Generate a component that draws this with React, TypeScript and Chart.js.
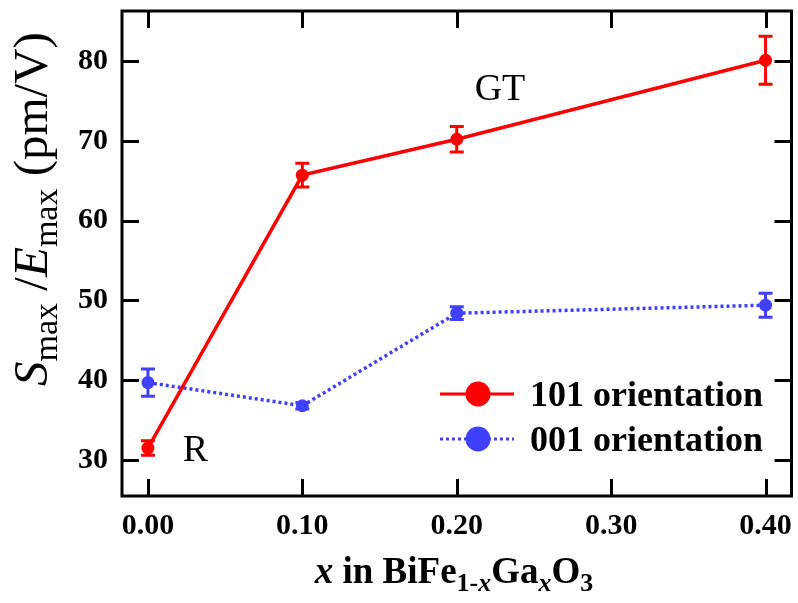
import React, { useEffect, useRef } from "react";
import { Chart, registerables } from "chart.js";
Chart.register(...registerables);

const xValues = [0.0, 0.1, 0.2, 0.4];
const s101 = [31.5, 65.7, 70.2, 80.1];
const e101 = [0.9, 1.5, 1.6, 3.0];
const s001 = [39.7, 36.8, 48.4, 49.4];
const e001 = [1.7, 0.4, 0.8, 1.5];
const xTicks = [0, 0.1, 0.2, 0.3, 0.4];
const yTicks = [30, 40, 50, 60, 70, 80];
const seriesLabels = ["101 orientation", "001 orientation"];
const annoText = ["R", "GT"];
const annoX = [0.0226, 0.2116];
const annoY = [29.9, 75.1];

const RED = "#ff0000";
const BLUE = "#4040ff";
const FAMILY = '"Liberation Serif", "Times New Roman", serif';

type Part = { t: string; f: string; dy: number };

function drawRich(ctx: CanvasRenderingContext2D, parts: Part[], x: number, y: number, rot: number, align: "center" | "left") {
  ctx.save();
  ctx.translate(x, y);
  ctx.rotate(rot);
  let total = 0;
  const widths = parts.map((p) => {
    ctx.font = p.f;
    const w = ctx.measureText(p.t).width;
    total += w;
    return w;
  });
  let cx = align === "center" ? -total / 2 : 0;
  ctx.fillStyle = "#000";
  ctx.textBaseline = "alphabetic";
  ctx.textAlign = "left";
  parts.forEach((p, i) => {
    ctx.font = p.f;
    ctx.fillText(p.t, cx, p.dy);
    cx += widths[i];
  });
  ctx.restore();
}

const errorBars = {
  id: "errorBars",
  beforeDatasetsDraw(chart: any) {
    const ctx = chart.ctx;
    const xs = chart.scales.x;
    const ys = chart.scales.y;
    const sets = [
      { v: s101, e: e101, c: RED },
      { v: s001, e: e001, c: BLUE },
    ];
    ctx.save();
    ctx.lineWidth = 3;
    sets.forEach((s) => {
      ctx.strokeStyle = s.c;
      xValues.forEach((xv, i) => {
        const px = xs.getPixelForValue(xv);
        const top = ys.getPixelForValue(s.v[i] + s.e[i]);
        const bot = ys.getPixelForValue(s.v[i] - s.e[i]);
        ctx.beginPath();
        ctx.moveTo(px, top);
        ctx.lineTo(px, bot);
        ctx.moveTo(px - 7, top);
        ctx.lineTo(px + 7, top);
        ctx.moveTo(px - 7, bot);
        ctx.lineTo(px + 7, bot);
        ctx.stroke();
      });
    });
    ctx.restore();
  },
};

const frameAndText = {
  id: "frameAndText",
  afterDraw(chart: any) {
    const ctx: CanvasRenderingContext2D = chart.ctx;
    const a = chart.chartArea;
    const xs = chart.scales.x;
    const ys = chart.scales.y;
    ctx.save();
    ctx.strokeStyle = "#000";
    ctx.lineWidth = 3;
    ctx.strokeRect(a.left, a.top, a.right - a.left, a.bottom - a.top);
    const tl = 17;
    ctx.beginPath();
    xTicks.forEach((v) => {
      const px = Math.round(xs.getPixelForValue(v)) + 0.5;
      ctx.moveTo(px, a.bottom);
      ctx.lineTo(px, a.bottom - tl);
      ctx.moveTo(px, a.top);
      ctx.lineTo(px, a.top + tl);
    });
    yTicks.forEach((v) => {
      const py = Math.round(ys.getPixelForValue(v)) + 0.5;
      ctx.moveTo(a.left, py);
      ctx.lineTo(a.left + tl, py);
      ctx.moveTo(a.right, py);
      ctx.lineTo(a.right - tl, py);
    });
    ctx.stroke();

    // annotations
    ctx.fillStyle = "#000";
    ctx.font = `38px ${FAMILY}`;
    ctx.textAlign = "left";
    ctx.textBaseline = "alphabetic";
    annoText.forEach((t, i) => {
      ctx.fillText(t, xs.getPixelForValue(annoX[i]), ys.getPixelForValue(annoY[i]));
    });

    // legend
    const rows = [
      { c: RED, dash: [] as number[], y: 394 },
      { c: BLUE, dash: [3, 3], y: 439 },
    ];
    rows.forEach((r, i) => {
      ctx.strokeStyle = r.c;
      ctx.lineWidth = 3;
      ctx.setLineDash(r.dash);
      ctx.beginPath();
      ctx.moveTo(440, r.y);
      ctx.lineTo(514, r.y);
      ctx.stroke();
      ctx.setLineDash([]);
      ctx.fillStyle = r.c;
      ctx.beginPath();
      ctx.arc(478, r.y, 12.5, 0, Math.PI * 2);
      ctx.fill();
      ctx.fillStyle = "#000";
      ctx.font = `bold 36px ${FAMILY}`;
      ctx.fillText(seriesLabels[i], 530, r.y + 12);
    });

    // x title
    const bI = `italic bold 37px ${FAMILY}`;
    const b = `bold 37px ${FAMILY}`;
    const bs = `bold 26px ${FAMILY}`;
    const bsi = `italic bold 26px ${FAMILY}`;
    drawRich(
      ctx,
      [
        { t: "x", f: bI, dy: 0 },
        { t: " in BiFe", f: b, dy: 0 },
        { t: "1-", f: bs, dy: 8 },
        { t: "x", f: bsi, dy: 8 },
        { t: "Ga", f: b, dy: 0 },
        { t: "x", f: bsi, dy: 8 },
        { t: "O", f: b, dy: 0 },
        { t: "3", f: bs, dy: 8 },
      ],
      454,
      583,
      0,
      "center"
    );
    // y title
    const r = `49px ${FAMILY}`;
    const ri = `italic 49px ${FAMILY}`;
    const rs = `34px ${FAMILY}`;
    drawRich(
      ctx,
      [
        { t: "S", f: ri, dy: 0 },
        { t: "max", f: rs, dy: 10 },
        { t: " /", f: r, dy: 0 },
        { t: "E", f: ri, dy: 0 },
        { t: "max", f: rs, dy: 10 },
        { t: " (pm/V)", f: r, dy: 0 },
      ],
      47,
      209,
      -Math.PI / 2,
      "center"
    );
    ctx.restore();
  },
};

export default function App() {
  const ref = useRef<HTMLCanvasElement | null>(null);
  useEffect(() => {
    if (!ref.current) return;
    const chart = new Chart(ref.current, {
      type: "scatter",
      data: {
        datasets: [
          {
            label: seriesLabels[0],
            data: xValues.map((x, i) => ({ x, y: s101[i] })),
            showLine: true,
            borderColor: RED,
            backgroundColor: RED,
            borderWidth: 3.5,
            pointRadius: 6.5,
            pointBorderWidth: 0,
          },
          {
            label: seriesLabels[1],
            data: xValues.map((x, i) => ({ x, y: s001[i] })),
            showLine: true,
            borderColor: BLUE,
            backgroundColor: BLUE,
            borderWidth: 3.5,
            borderDash: [3, 3],
            pointRadius: 6.5,
            pointBorderWidth: 0,
          },
        ],
      },
      options: {
        animation: false,
        responsive: false,
        events: [],
        layout: { padding: { top: 11, right: 6, left: 0, bottom: 0 } },
        plugins: { legend: { display: false }, tooltip: { enabled: false } },
        scales: {
          x: {
            type: "linear",
            min: -0.0168,
            max: 0.4168,
            grid: { display: false, drawTicks: false },
            border: { display: false },
            afterBuildTicks: (s: any) => {
              s.ticks = xTicks.map((v) => ({ value: v }));
            },
            afterFit: (s: any) => {
              s.height = 107;
              s.paddingLeft = 0;
              s.paddingRight = 0;
              s.paddingTop = 0;
              s.paddingBottom = 0;
            },
            ticks: {
              color: "#000",
              padding: 12,
              maxRotation: 0,
              font: { family: FAMILY, size: 30, weight: "bold" },
              callback: (v: any) => Number(v).toFixed(2),
            },
          },
          y: {
            type: "linear",
            min: 25.49,
            max: 86.27,
            grid: { display: false, drawTicks: false },
            border: { display: false },
            afterBuildTicks: (s: any) => {
              s.ticks = yTicks.map((v) => ({ value: v }));
            },
            afterFit: (s: any) => {
              s.width = 122;
              s.paddingLeft = 0;
              s.paddingRight = 0;
              s.paddingTop = 0;
              s.paddingBottom = 0;
            },
            ticks: {
              color: "#000",
              padding: 14,
              font: { family: FAMILY, size: 30, weight: "bold" },
              callback: (v: any) => String(v),
            },
          },
        },
      },
      plugins: [errorBars, frameAndText],
    } as any);
    return () => chart.destroy();
  }, []);
  return (
    <div style={{ position: "absolute", left: 0, top: 0, width: 798, height: 603 }}>
      <canvas ref={ref} width={798} height={603} style={{ width: 798, height: 603, display: "block" }} />
    </div>
  );
}
